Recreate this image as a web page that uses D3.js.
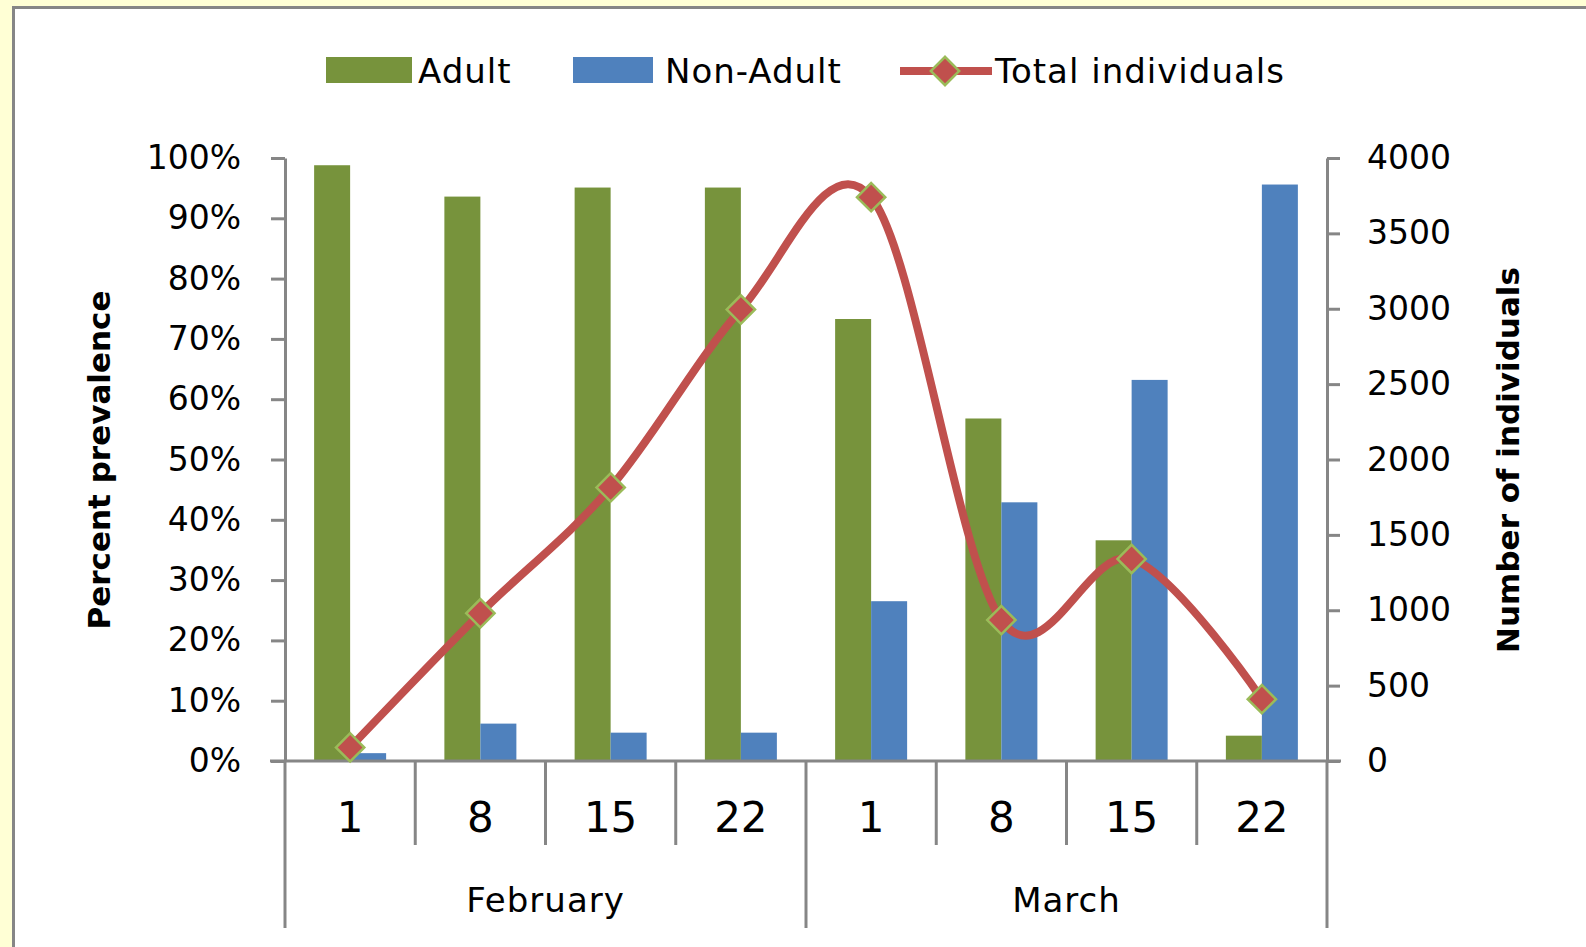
<!DOCTYPE html>
<html>
<head>
<meta charset="utf-8">
<script src="https://cdn.jsdelivr.net/npm/d3@7"></script>
<style>
  body { margin: 0; background: #ffffd5; }
  text { font-family: "DejaVu Sans", Verdana, sans-serif; fill: #000; }
</style>
</head>
<body>
<svg id="chart" width="1586" height="947"></svg>
<script>
// data
var dayLabels = ["1", "8", "15", "22", "1", "8", "15", "22"];
var monthLabels = ["February", "March"];
var seriesNames = ["Adult", "Non-Adult"];
var adultPct = [98.8, 93.6, 95.1, 95.1, 73.3, 56.8, 36.6, 4.2];
var nonAdultPct = [1.3, 6.2, 4.7, 4.7, 26.5, 42.9, 63.2, 95.6];
var totalIndividuals = [90, 980, 1815, 2995, 3740, 935, 1340, 410];
var pctTicks = [0, 10, 20, 30, 40, 50, 60, 70, 80, 90, 100];
var countTicks = [0, 500, 1000, 1500, 2000, 2500, 3000, 3500, 4000];

var green = "#77933c", blue = "#4f81bd", red = "#c0504d", markerEdge = "#9bbb59", axisGrey = "#868686";

var svg = d3.select("#chart"),
    plotLeft = 285, plotRight = 1327, plotTop = 158, plotBottom = 761;

// white chart area with grey frame
svg.append("rect")
    .attr("x", 13.5).attr("y", 7.5)
    .attr("width", 1586).attr("height", 1000)
    .attr("fill", "#fff")
    .attr("stroke", axisGrey)
    .attr("stroke-width", 3);

var keys = dayLabels.map(function(d, i) { return i; });

var x = d3.scaleBand().domain(keys).range([plotLeft, plotRight]).padding(0);
var bw = x.bandwidth();
var xs = d3.scaleBand().domain(seriesNames).range([bw / 2 - 36, bw / 2 + 36]);

var yL = d3.scaleLinear().domain([0, 100]).range([plotBottom, plotTop]);
var yR = d3.scaleLinear().domain([0, 4000]).range([plotBottom, plotTop]);

// bars
var rows = keys.map(function(i) {
  return [{k: i, s: "Adult", v: adultPct[i]}, {k: i, s: "Non-Adult", v: nonAdultPct[i]}];
});

svg.append("g").selectAll("g")
    .data(rows)
  .enter().append("g")
    .selectAll("rect")
    .data(function(d) { return d; })
  .enter().append("rect")
    .attr("x", function(d) { return x(d.k) + xs(d.s); })
    .attr("width", xs.bandwidth())
    .attr("y", function(d) { return yL(d.v); })
    .attr("height", function(d) { return plotBottom - yL(d.v); })
    .attr("fill", function(d) { return d.s === "Adult" ? green : blue; });

// left axis
var gl = svg.append("g")
    .attr("transform", "translate(" + plotLeft + ",0)")
    .call(d3.axisLeft(yL).tickValues(pctTicks).tickSize(14).tickSizeOuter(0).tickPadding(30)
      .tickFormat(function(d) { return d + "%"; }));

// right axis
var gr = svg.append("g")
    .attr("transform", "translate(" + plotRight + ",0)")
    .call(d3.axisRight(yR).tickValues(countTicks).tickSize(13).tickSizeOuter(0).tickPadding(27)
      .tickFormat(d3.format("d")));

[gl, gr].forEach(function(g) {
  g.select(".domain").attr("stroke", axisGrey).attr("stroke-width", 3);
  g.selectAll(".tick line").attr("stroke", axisGrey).attr("stroke-width", 3);
  g.selectAll(".tick text").style("font-size", "33px").attr("fill", "#000");
});

// category axis
svg.append("line")
    .attr("x1", 270).attr("x2", 1341)
    .attr("y1", plotBottom).attr("y2", plotBottom)
    .attr("stroke", axisGrey).attr("stroke-width", 3);

var edges = keys.concat([keys.length]);
svg.append("g").selectAll("line")
    .data(edges)
  .enter().append("line")
    .attr("x1", function(i) { return i < keys.length ? x(i) : x(keys.length - 1) + bw; })
    .attr("x2", function(i) { return i < keys.length ? x(i) : x(keys.length - 1) + bw; })
    .attr("y1", plotBottom)
    .attr("y2", function(i) { return i % 4 === 0 ? 928 : 845; })
    .attr("stroke", axisGrey)
    .attr("stroke-width", 3);

svg.append("g").selectAll("text")
    .data(keys)
  .enter().append("text")
    .attr("x", function(i) { return x(i) + bw / 2; })
    .attr("y", 832)
    .attr("text-anchor", "middle")
    .style("font-size", "42px")
    .text(function(i) { return dayLabels[i]; });

svg.append("g").selectAll("text")
    .data(monthLabels)
  .enter().append("text")
    .attr("x", function(d, j) { return x(j * 4) + bw * 2; })
    .attr("y", 912)
    .attr("text-anchor", "middle")
    .style("font-size", "34px")
    .style("letter-spacing", "1px")
    .text(function(d) { return d; });

// total individuals line
var line = d3.line()
    .x(function(d, i) { return x(i) + bw / 2; })
    .y(function(d) { return yR(d); })
    .curve(d3.curveCardinal.tension(0));

svg.append("path")
    .datum(totalIndividuals)
    .attr("d", line)
    .attr("fill", "none")
    .attr("stroke", red)
    .attr("stroke-width", 8)
    .attr("stroke-linecap", "round");

var diamond = d3.symbol().type(d3.symbolSquare).size(400);

svg.append("g").selectAll("path")
    .data(totalIndividuals)
  .enter().append("path")
    .attr("d", diamond)
    .attr("transform", function(d, i) { return "translate(" + (x(i) + bw / 2) + "," + yR(d) + ") rotate(45)"; })
    .attr("fill", red)
    .attr("stroke", markerEdge)
    .attr("stroke-width", 2.5);

// axis titles
svg.append("text")
    .attr("transform", "translate(110,460) rotate(-90)")
    .attr("text-anchor", "middle")
    .style("font-size", "31px")
    .style("font-weight", "bold")
    .text("Percent prevalence");

svg.append("text")
    .attr("transform", "translate(1519,460) rotate(-90)")
    .attr("text-anchor", "middle")
    .style("font-size", "31px")
    .style("font-weight", "bold")
    .text("Number of individuals");

// legend
var legend = svg.append("g");
legend.append("rect").attr("x", 326).attr("y", 57).attr("width", 86).attr("height", 26).attr("fill", green);
legend.append("text").attr("x", 418).attr("y", 83).style("font-size", "34px").style("letter-spacing", "1px").text(seriesNames[0]);
legend.append("rect").attr("x", 573).attr("y", 57).attr("width", 80).attr("height", 26).attr("fill", blue);
legend.append("text").attr("x", 665).attr("y", 83).style("font-size", "34px").style("letter-spacing", "1px").text(seriesNames[1]);
legend.append("line").attr("x1", 900).attr("x2", 992).attr("y1", 71).attr("y2", 71)
    .attr("stroke", red).attr("stroke-width", 8);
legend.append("path").attr("d", diamond)
    .attr("transform", "translate(945,71) rotate(45)")
    .attr("fill", red).attr("stroke", markerEdge).attr("stroke-width", 2.5);
legend.append("text").attr("x", 995).attr("y", 83).style("font-size", "34px").style("letter-spacing", "1px").text("Total individuals");
</script>
</body>
</html>
